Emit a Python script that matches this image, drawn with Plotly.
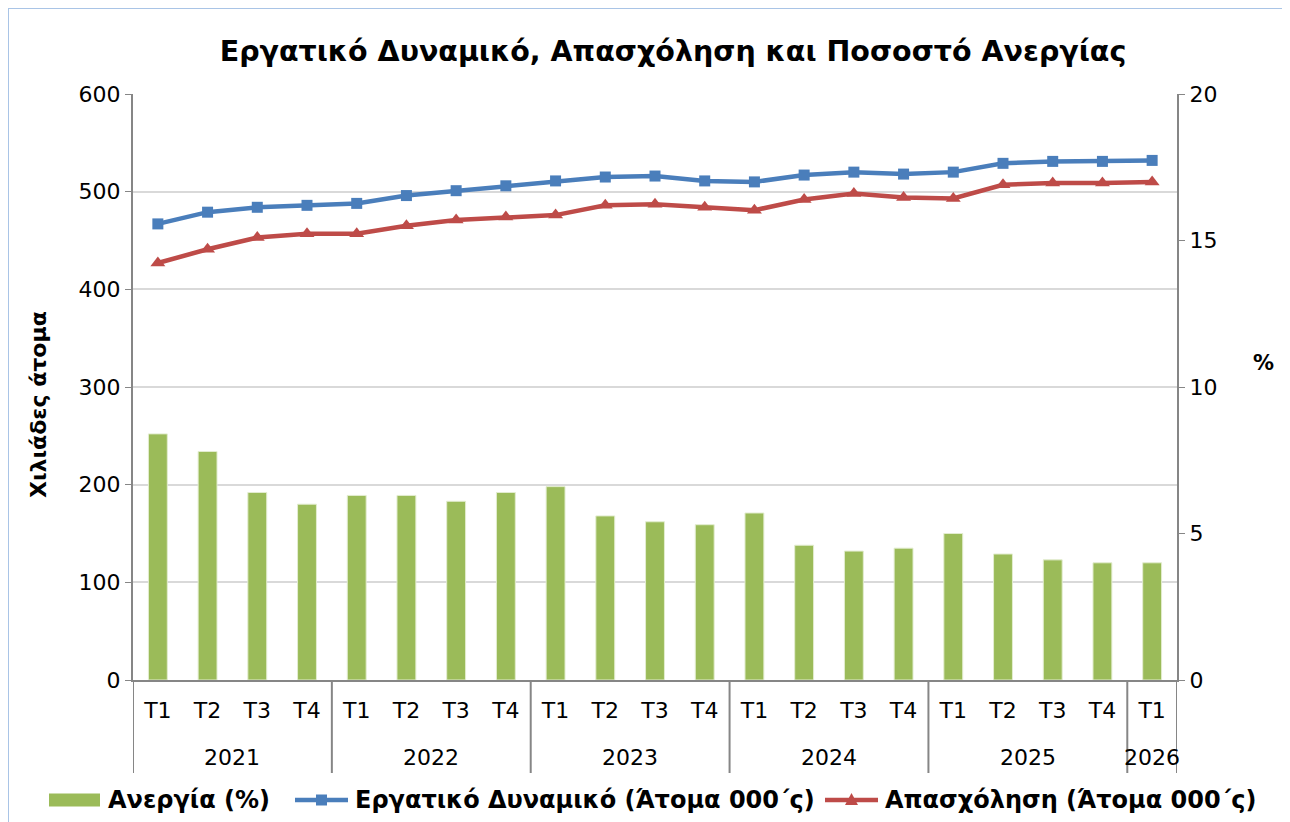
import plotly.graph_objects as go

years = ["2021"] * 4 + ["2022"] * 4 + ["2023"] * 4 + ["2024"] * 4 + ["2025"] * 4 + ["2026"]
quarters = ["T1", "T2", "T3", "T4"] * 5 + ["T1"]

unemployment = [8.4, 7.8, 6.4, 6.0, 6.3, 6.3, 6.1, 6.4, 6.6, 5.6, 5.4, 5.3,
                5.7, 4.6, 4.4, 4.5, 5.0, 4.3, 4.1, 4.0, 4.0]
labour_force = [467, 479, 484, 486, 488, 496, 501, 506, 511, 515, 516, 511,
                510, 517, 520, 518, 520, 529, 531, 531, 532]
employment = [427, 441, 453, 457, 457, 465, 471, 474, 476, 486, 487, 484,
              481, 492, 498, 494, 493, 507, 509, 509, 510]

title_text = "Εργατικό Δυναμικό, Απασχόληση και Ποσοστό Ανεργίας"
left_title = "Χιλιάδες άτομα"
right_title = "%"
names = ["Ανεργία (%)", "Εργατικό Δυναμικό (Άτομα 000΄ς)", "Απασχόληση (Άτομα 000΄ς)"]

FONT = "DejaVu Sans"
AXIS = "#868686"
GREEN = "#9BBB59"
BLUE = "#4A7EBB"
RED = "#BE4B48"

# the page body adds an 8px margin; positions below are screen pixels
OFF = 8
W, H = 1290, 822
L, R, T, B = 133 - OFF, 1177 - OFF, 94 - OFF, 680 - OFF
PW, PH = R - L, B - T


def py(s):  # screen y -> paper y
    return (B - (s - OFF)) / PH


def px(s):  # screen x -> paper x
    return ((s - OFF) - L) / PW


idx = list(range(len(quarters)))

fig = go.Figure()
fig.add_trace(go.Bar(
    x=idx, y=unemployment, name=names[0], yaxis="y2",
    marker=dict(color=GREEN, line=dict(color="#E3EDD0", width=1)),
    width=0.38,
))
fig.add_trace(go.Scatter(
    x=idx, y=labour_force, name=names[1], mode="lines+markers",
    line=dict(color=BLUE, width=4.5),
    marker=dict(symbol="square", size=11, color=BLUE),
))
fig.add_trace(go.Scatter(
    x=idx, y=employment, name=names[2], mode="lines+markers",
    line=dict(color=RED, width=4.5),
    marker=dict(symbol="triangle-up", size=13, color=RED),
))

annotations = []
shapes = []

# year group labels and dividers derived from data
groups = []
start = 0
for i in range(1, len(years) + 1):
    if i == len(years) or years[i] != years[start]:
        groups.append((years[start], start, i - 1))
        start = i
for yr, a, b in groups:
    annotations.append(dict(
        text=yr, xref="x", yref="paper", x=(a + b) / 2, y=py(757),
        showarrow=False, font=dict(size=22, family=FONT, color="black"),
        xanchor="center", yanchor="middle"))
bounds = [groups[0][1] - 0.5] + [g[2] + 0.5 for g in groups]
for bx in bounds:
    shapes.append(dict(type="line", xref="x", yref="paper", x0=bx, x1=bx,
                       y0=0, y1=py(773), line=dict(color=AXIS, width=2)))

# axis titles
annotations += [
    dict(text="<b>" + left_title + "</b>", textangle=-90, xref="paper", yref="paper",
         x=px(38), y=py(405), showarrow=False,
         font=dict(size=22, family=FONT, color="black"), xanchor="center", yanchor="middle"),
    dict(text="<b>" + right_title + "</b>", xref="paper", yref="paper",
         x=px(1263), y=py(363), showarrow=False,
         font=dict(size=21, family=FONT, color="black"), xanchor="center", yanchor="middle"),
]

# legend (drawn explicitly to match the original's wide swatches)
LY = 800
leg_font = dict(size=24, family=FONT, color="black")
sym_x = [(49, 100), (295, 348), (825, 878)]
txt_x = [106, 353, 883]
shapes.append(dict(type="rect", xref="paper", yref="paper",
                   x0=px(sym_x[0][0]), x1=px(sym_x[0][1]), y0=py(LY - 6.5), y1=py(LY + 6.5),
                   fillcolor=GREEN, line=dict(width=0)))
for (x0, x1), col in zip(sym_x[1:], [BLUE, RED]):
    shapes.append(dict(type="line", xref="paper", yref="paper",
                       x0=px(x0), x1=px(x1), y0=py(LY), y1=py(LY),
                       line=dict(color=col, width=4.5)))
cx = (sym_x[1][0] + sym_x[1][1]) / 2
shapes.append(dict(type="rect", xref="paper", yref="paper",
                   x0=px(cx - 5.5), x1=px(cx + 5.5), y0=py(LY - 5.5), y1=py(LY + 5.5),
                   fillcolor=BLUE, line=dict(width=0)))
cx = (sym_x[2][0] + sym_x[2][1]) / 2
shapes.append(dict(type="path", xref="paper", yref="paper",
                   path="M {} {} L {} {} L {} {} Z".format(
                       px(cx - 6.5), py(LY + 5), px(cx + 6.5), py(LY + 5), px(cx), py(LY - 7)),
                   fillcolor=RED, line=dict(width=0)))
for name, tx in zip(names, txt_x):
    annotations.append(dict(text="<b>" + name + "</b>", xref="paper", yref="paper",
                            x=px(tx), y=py(LY), xanchor="left", yanchor="middle",
                            showarrow=False, font=leg_font))

# outer chart border (light blue frame)
shapes += [
    dict(type="line", xref="paper", yref="paper", x0=px(8), x1=px(1300),
         y0=py(8), y1=py(8), line=dict(color="#A9C4E6", width=2)),
    dict(type="line", xref="paper", yref="paper", x0=px(8), x1=px(8),
         y0=py(8), y1=py(830), line=dict(color="#A9C4E6", width=2)),
]

fig.update_layout(
    width=W, height=H,
    margin=dict(l=L, r=W - R, t=T, b=H - B, autoexpand=False),
    paper_bgcolor="white", plot_bgcolor="white",
    font=dict(family=FONT, size=22, color="black"),
    title=dict(text="<b>" + title_text + "</b>", x=(673 - OFF) / W, xanchor="center",
               y=1 - (51 - OFF) / H, yanchor="middle",
               font=dict(size=28.5, family=FONT, color="black")),
    showlegend=False,
    xaxis=dict(
        range=[-0.5, len(idx) - 0.5], tickmode="array", tickvals=idx, ticktext=quarters,
        showline=True, linecolor=AXIS, linewidth=2,
        ticks="outside", ticklen=10, tickcolor="rgba(0,0,0,0)",
        showgrid=False, zeroline=False, automargin=False,
        tickfont=dict(size=22, family=FONT, color="black"),
    ),
    yaxis=dict(
        range=[0, 600], dtick=100, showgrid=True, gridcolor="#D9D9D9", gridwidth=2,
        showline=True, linecolor=AXIS, linewidth=2, ticks="outside",
        tickcolor=AXIS, ticklen=6, zeroline=False, automargin=False,
        tickfont=dict(size=22, family=FONT, color="black"),
    ),
    yaxis2=dict(
        range=[0, 20], dtick=5, overlaying="y", side="right", showgrid=False,
        showline=True, linecolor=AXIS, linewidth=2, ticks="outside",
        tickcolor=AXIS, ticklen=6, zeroline=False, automargin=False,
        tickfont=dict(size=22, family=FONT, color="black"),
    ),
    annotations=annotations,
    shapes=shapes,
)

fig.write_html("out.html")
